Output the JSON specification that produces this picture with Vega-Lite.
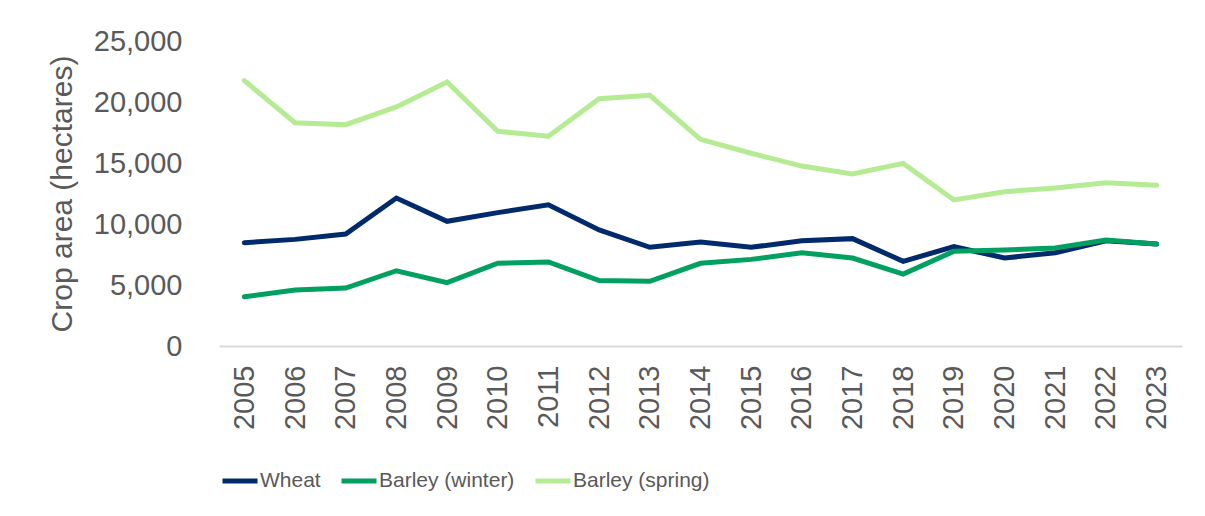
{
  "$schema": "https://vega.github.io/schema/vega-lite/v6.json",
  "width": 963,
  "height": 305,
  "autosize": {"type": "none"},
  "padding": {"left": 219, "top": 41, "right": 23, "bottom": 170},
  "background": "white",
  "config": {
    "view": {"stroke": null},
    "font": "Liberation Sans"
  },
  "data": {
    "values": [
      {"year": "2005", "crop": "Wheat", "area": 8470},
      {"year": "2006", "crop": "Wheat", "area": 8740},
      {"year": "2007", "crop": "Wheat", "area": 9180},
      {"year": "2008", "crop": "Wheat", "area": 12130},
      {"year": "2009", "crop": "Wheat", "area": 10220},
      {"year": "2010", "crop": "Wheat", "area": 10930},
      {"year": "2011", "crop": "Wheat", "area": 11580},
      {"year": "2012", "crop": "Wheat", "area": 9510},
      {"year": "2013", "crop": "Wheat", "area": 8090},
      {"year": "2014", "crop": "Wheat", "area": 8520},
      {"year": "2015", "crop": "Wheat", "area": 8090},
      {"year": "2016", "crop": "Wheat", "area": 8630},
      {"year": "2017", "crop": "Wheat", "area": 8800},
      {"year": "2018", "crop": "Wheat", "area": 6940},
      {"year": "2019", "crop": "Wheat", "area": 8140},
      {"year": "2020", "crop": "Wheat", "area": 7210},
      {"year": "2021", "crop": "Wheat", "area": 7650},
      {"year": "2022", "crop": "Wheat", "area": 8630},
      {"year": "2023", "crop": "Wheat", "area": 8360},
      {"year": "2005", "crop": "Barley (winter)", "area": 4040},
      {"year": "2006", "crop": "Barley (winter)", "area": 4590},
      {"year": "2007", "crop": "Barley (winter)", "area": 4750},
      {"year": "2008", "crop": "Barley (winter)", "area": 6170},
      {"year": "2009", "crop": "Barley (winter)", "area": 5190},
      {"year": "2010", "crop": "Barley (winter)", "area": 6780},
      {"year": "2011", "crop": "Barley (winter)", "area": 6890},
      {"year": "2012", "crop": "Barley (winter)", "area": 5360},
      {"year": "2013", "crop": "Barley (winter)", "area": 5300},
      {"year": "2014", "crop": "Barley (winter)", "area": 6780},
      {"year": "2015", "crop": "Barley (winter)", "area": 7100},
      {"year": "2016", "crop": "Barley (winter)", "area": 7650},
      {"year": "2017", "crop": "Barley (winter)", "area": 7210},
      {"year": "2018", "crop": "Barley (winter)", "area": 5900},
      {"year": "2019", "crop": "Barley (winter)", "area": 7760},
      {"year": "2020", "crop": "Barley (winter)", "area": 7870},
      {"year": "2021", "crop": "Barley (winter)", "area": 8030},
      {"year": "2022", "crop": "Barley (winter)", "area": 8690},
      {"year": "2023", "crop": "Barley (winter)", "area": 8360},
      {"year": "2005", "crop": "Barley (spring)", "area": 21750},
      {"year": "2006", "crop": "Barley (spring)", "area": 18300},
      {"year": "2007", "crop": "Barley (spring)", "area": 18140},
      {"year": "2008", "crop": "Barley (spring)", "area": 19600},
      {"year": "2009", "crop": "Barley (spring)", "area": 21640},
      {"year": "2010", "crop": "Barley (spring)", "area": 17600},
      {"year": "2011", "crop": "Barley (spring)", "area": 17200},
      {"year": "2012", "crop": "Barley (spring)", "area": 20270},
      {"year": "2013", "crop": "Barley (spring)", "area": 20550},
      {"year": "2014", "crop": "Barley (spring)", "area": 16940},
      {"year": "2015", "crop": "Barley (spring)", "area": 15800},
      {"year": "2016", "crop": "Barley (spring)", "area": 14750},
      {"year": "2017", "crop": "Barley (spring)", "area": 14100},
      {"year": "2018", "crop": "Barley (spring)", "area": 14970},
      {"year": "2019", "crop": "Barley (spring)", "area": 11970},
      {"year": "2020", "crop": "Barley (spring)", "area": 12650},
      {"year": "2021", "crop": "Barley (spring)", "area": 12950},
      {"year": "2022", "crop": "Barley (spring)", "area": 13390},
      {"year": "2023", "crop": "Barley (spring)", "area": 13170}
    ]
  },
  "mark": {"type": "line", "strokeWidth": 5, "strokeCap": "round", "strokeJoin": "miter"},
  "encoding": {
    "x": {
      "field": "year",
      "type": "ordinal",
      "scale": {"type": "point", "padding": 0.5},
      "axis": {
        "title": null,
        "labelAngle": -90,
        "labelAlign": "right",
        "labelBaseline": "middle",
        "labelPadding": 19,
        "labelFontSize": 29,
        "labelColor": "#595959",
        "ticks": false,
        "domainColor": "#d9d9d9",
        "domainWidth": 2
      }
    },
    "y": {
      "field": "area",
      "type": "quantitative",
      "scale": {"domain": [0, 25000], "nice": false},
      "axis": {
        "title": "Crop area (hectares)",
        "titleFontSize": 30,
        "titleFontWeight": "normal",
        "titleColor": "#595959",
        "titlePadding": 16,
        "values": [0, 5000, 10000, 15000, 20000, 25000],
        "format": ",d",
        "labelFontSize": 29,
        "labelColor": "#595959",
        "labelPadding": 37,
        "ticks": false,
        "domain": false,
        "grid": false
      }
    },
    "color": {
      "field": "crop",
      "type": "nominal",
      "sort": ["Wheat", "Barley (winter)", "Barley (spring)"],
      "scale": {
        "domain": ["Wheat", "Barley (winter)", "Barley (spring)"],
        "range": ["#002a6c", "#00a060", "#b5eb93"]
      },
      "legend": {
        "title": null,
        "orient": "none",
        "direction": "horizontal",
        "legendX": 1,
        "legendY": 420,
        "symbolType": "stroke",
        "symbolSize": 1225,
        "symbolStrokeWidth": 5,
        "labelFontSize": 21,
        "labelColor": "#595959",
        "labelOffset": 0,
        "columnPadding": 10,
        "labelLimit": 400
      }
    }
  }
}
